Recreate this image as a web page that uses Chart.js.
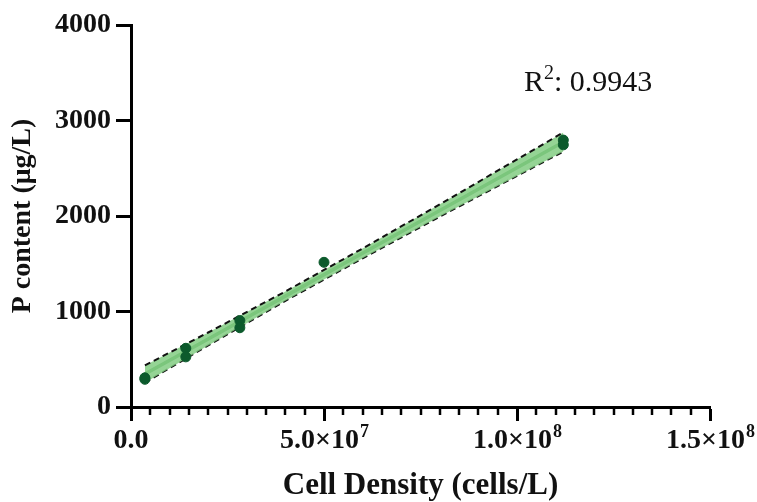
<!DOCTYPE html>
<html>
<head>
<meta charset="utf-8">
<style>
  html, body { margin: 0; padding: 0; background: #fff; }
  #wrap { width: 757px; height: 502px; }
</style>
<script src="https://cdn.jsdelivr.net/npm/chart.js@4.4.1/dist/chart.umd.min.js"></script>
</head>
<body>
<div id="wrap"><canvas id="chart" width="757" height="502"></canvas></div>
<script>
// measured points (cells/L, µg/L)
const densityX = [3.6e6, 3.6e6, 1.42e7, 1.42e7, 2.82e7, 2.82e7, 5.0e7, 1.12e8, 1.12e8];
const pContent = [290, 305, 615, 525, 905, 830, 1515, 2795, 2745];

// fitted line and its band
const fitX = [3.6e6, 2.0e7, 4.0e7, 6.0e7, 8.0e7, 1.0e8, 1.12e8];
const fitY = [345, 713, 1161, 1609, 2058, 2506, 2775];
const bandUpper = [435, 780, 1210, 1660, 2122, 2592, 2875];
const bandLower = [255, 645, 1112, 1557, 1994, 2420, 2675];

const xTickValues = [0, 5e7, 1e8, 1.5e8];
const xTickBase = ['0.0', '5.0×10', '1.0×10', '1.5×10'];
const xTickExp = ['', '7', '8', '8'];
const yTickValues = [0, 1000, 2000, 3000, 4000];
const minorStep = 5e6;
const r2Text = '0.9943';

const serif = '"Liberation Serif", "Times New Roman", serif';

const pts = (xs, ys) => xs.map((x, i) => ({ x: x, y: ys[i] }));

const extras = {
  id: 'extras',
  afterDraw(chart) {
    const ctx = chart.ctx;
    const xs = chart.scales.x;
    const bottom = chart.chartArea.bottom;
    ctx.save();
    ctx.strokeStyle = '#000';
    ctx.lineWidth = 2.5;
    for (let v = 0; v <= xs.max + 1; v += minorStep) {
      if (xTickValues.some(t => Math.abs(t - v) < 1)) continue;
      const px = Math.round(xs.getPixelForValue(v));
      ctx.beginPath();
      ctx.moveTo(px, bottom);
      ctx.lineTo(px, bottom + 8);
      ctx.stroke();
    }
    // x tick labels with exponents
    ctx.fillStyle = '#111';
    ctx.textBaseline = 'alphabetic';
    ctx.textAlign = 'left';
    const baseFont = 'bold 28px ' + serif;
    const expFont = 'bold 18px ' + serif;
    xTickValues.forEach((v, i) => {
      ctx.font = baseFont;
      const wb = ctx.measureText(xTickBase[i]).width;
      ctx.font = expFont;
      const we = xTickExp[i] ? ctx.measureText(xTickExp[i]).width : 0;
      const cx = xs.getPixelForValue(v);
      let x = cx - (wb + we) / 2;
      const y = bottom + 41;
      ctx.font = baseFont;
      ctx.fillText(xTickBase[i], x, y);
      if (xTickExp[i]) {
        ctx.font = expFont;
        ctx.fillText(xTickExp[i], x + wb + 1, y - 11);
      }
    });
    // R² label
    ctx.font = '30px ' + serif;
    let x = 524, y = 91;
    ctx.fillText('R', x, y);
    x += ctx.measureText('R').width;
    ctx.font = '20px ' + serif;
    ctx.fillText('2', x, y - 12);
    x += ctx.measureText('2').width;
    ctx.font = '30px ' + serif;
    ctx.fillText(': ' + r2Text, x, y);
    ctx.restore();
  }
};

new Chart(document.getElementById('chart'), {
  type: 'scatter',
  data: {
    datasets: [
      {
        label: 'data',
        data: pts(densityX, pContent),
        backgroundColor: '#0c5a2c',
        borderColor: '#0c5a2c',
        pointRadius: 5,
        order: 0
      },
      {
        label: 'upper',
        type: 'line',
        data: pts(fitX, bandUpper),
        borderColor: '#111',
        borderWidth: 2,
        borderDash: [6, 4],
        pointRadius: 0,
        fill: '+1',
        backgroundColor: 'rgba(130,205,130,0.85)',
        order: 1
      },
      {
        label: 'lower',
        type: 'line',
        data: pts(fitX, bandLower),
        borderColor: '#111',
        borderWidth: 2,
        borderDash: [6, 4],
        pointRadius: 0,
        fill: false,
        order: 1
      },
      {
        label: 'fit',
        type: 'line',
        data: pts(fitX, fitY),
        borderColor: '#4f9f58',
        borderWidth: 3.5,
        pointRadius: 0,
        fill: false,
        order: 2
      }
    ]
  },
  options: {
    responsive: false,
    animation: false,
    layout: { padding: { left: 6, right: 47, top: 25, bottom: 0 } },
    plugins: { legend: { display: false }, tooltip: { enabled: false } },
    scales: {
      x: {
        type: 'linear',
        min: 0,
        max: 1.5e8,
        afterFit: s => { s.height = 95; },
        afterBuildTicks: s => { s.ticks = xTickValues.map(v => ({ value: v })); },
        border: { display: true, color: '#000', width: 3 },
        grid: { drawOnChartArea: false, color: '#000', tickLength: 14, tickWidth: 3 },
        ticks: {
          padding: 5,
          maxRotation: 0,
          font: { family: serif, size: 28, weight: 'bold' },
          callback: () => ''
        },
        title: {
          display: true,
          text: 'Cell Density (cells/L)',
          color: '#111',
          padding: { top: 0, bottom: 0 },
          font: { family: serif, size: 31, weight: 'bold', lineHeight: 1.05 }
        }
      },
      y: {
        min: 0,
        max: 4000,
        afterFit: s => { s.width = 125; },
        afterBuildTicks: s => { s.ticks = yTickValues.map(v => ({ value: v })); },
        border: { display: true, color: '#000', width: 3 },
        grid: { drawOnChartArea: false, color: '#000', tickLength: 15, tickWidth: 3 },
        ticks: {
          color: '#111',
          padding: 5,
          font: { family: serif, size: 28, weight: 'bold' },
          callback: v => String(v)
        },
        title: {
          display: true,
          text: 'P content (μg/L)',
          color: '#111',
          padding: { top: 0, bottom: 0 },
          font: { family: serif, size: 28, weight: 'bold' }
        }
      }
    }
  },
  plugins: [extras]
});
</script>
</body>
</html>
